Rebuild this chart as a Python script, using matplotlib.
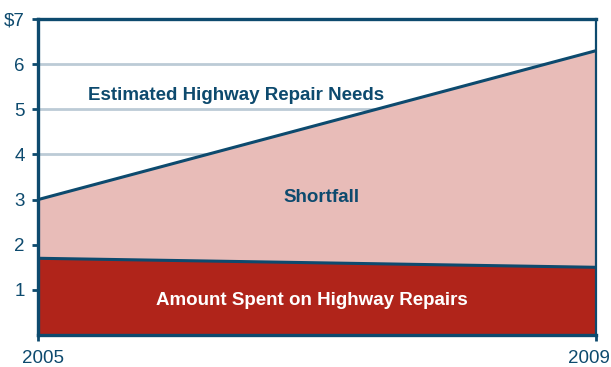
import matplotlib.pyplot as plt
from matplotlib.transforms import ScaledTranslation

years = [2005, 2009]
repair_needs = [3.0, 6.3]
amount_spent = [1.7, 1.5]
y_ticks = [1, 2, 3, 4, 5, 6, 7]
y_tick_labels = ["1", "2", "3", "4", "5", "6", "$7"]

navy = "#0d4a6e"
red = "#b0241a"
pink = "#e8bcb8"
grid_color = "#bccbd6"

plt.rcParams["font.family"] = ["Liberation Sans", "DejaVu Sans"]

fig = plt.figure(figsize=(6.11, 3.67), dpi=100)
ax = fig.add_axes([0.0622, 0.0872, 0.9133, 0.8608])

for t in [3, 4, 5, 6]:
    ax.axhline(t, color=grid_color, lw=2, zorder=0)

ax.fill_between(years, amount_spent, repair_needs, color=pink, lw=0, zorder=1)
ax.fill_between(years, 0, amount_spent, color=red, lw=0, zorder=1)
ax.plot(years, repair_needs, color=navy, lw=2.2, zorder=3)
ax.plot(years, amount_spent, color=navy, lw=2.2, zorder=3)

ax.set_xlim(2005, 2009)
ax.set_ylim(0, 7)
ax.set_yticks(y_ticks)
ax.set_yticklabels(y_tick_labels)
ax.set_xticks(years)
ax.set_xticklabels([str(y) for y in years])

for side in ["left", "bottom", "top"]:
    ax.spines[side].set_color(navy)
    ax.spines[side].set_linewidth(2.4)
ax.spines["right"].set_color(navy)
ax.spines["right"].set_linewidth(1.6)

ax.tick_params(axis="y", colors=navy, labelsize=13.5, length=4.5, width=2, pad=5)
ax.tick_params(axis="x", colors=navy, labelsize=13.5, length=4, width=2, pad=6.5)

# nudge the end-year labels so they stay inside the figure
shifts = [5, -7]
for lbl, dx in zip(ax.get_xticklabels(), shifts):
    lbl.set_transform(lbl.get_transform() + ScaledTranslation(dx / 100, 0, fig.dpi_scale_trans))

ax.text(2006.42, 5.3, "Estimated Highway Repair Needs", color=navy,
        fontsize=13.5, fontweight="bold", ha="center", va="center", zorder=4)
ax.text(2007.03, 3.05, "Shortfall", color=navy,
        fontsize=13.5, fontweight="bold", ha="center", va="center", zorder=4)
ax.text(2006.96, 0.76, "Amount Spent on Highway Repairs", color="white",
        fontsize=13.5, fontweight="bold", ha="center", va="center", zorder=4)

fig.savefig("out.png", dpi=100)
